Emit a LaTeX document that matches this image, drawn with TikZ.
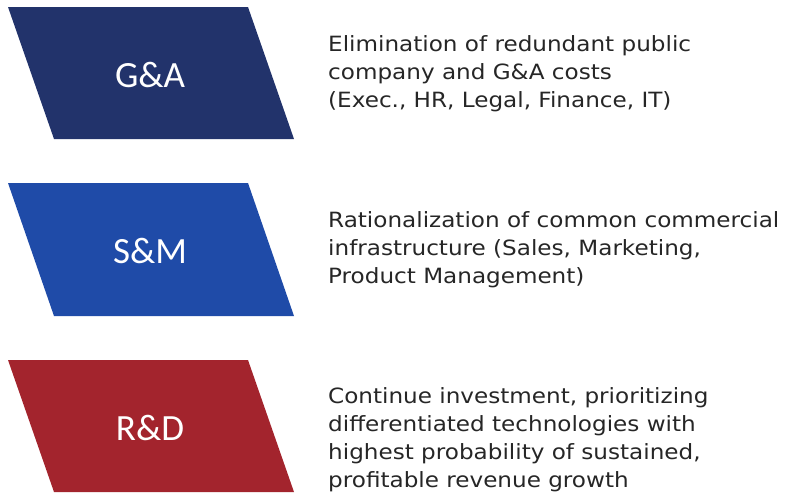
\documentclass[tikz,border=0pt]{standalone}
\usepackage{fontspec}
\setmainfont[FakeStretch=1.1]{DejaVu Sans}
\newfontfamily\tagfont{Carlito}
\usetikzlibrary{positioning}

\definecolor{gaBlue}{RGB}{34,51,107}
\definecolor{smBlue}{RGB}{31,75,168}
\definecolor{rdRed}{RGB}{163,36,45}

\begin{document}
\begin{tikzpicture}[x=1pt,y=-1pt,
    tag/.style={text=white,inner sep=0pt,font=\tagfont\fontsize{37}{37}\selectfont},
    blurb/.style={anchor=north west,inner sep=0pt,align=left,text=black!85,
                  font=\fontsize{21}{28}\selectfont}]
    \useasboundingbox (0,0) rectangle (786,496);

    % G&A block
    \fill[gaBlue] (8,7) -- (248,7) -- (294,139) -- (54,139) -- cycle;
    \node[tag] (ga) at (150,75) {G\&A};
    \node[blurb] (gaText) at (328,35) {Elimination of redundant public\\
          company and G\&A costs\\
          (Exec., HR, Legal, Finance, IT)};

    % S&M block
    \fill[smBlue] (8,183) -- (248,183) -- (294,316) -- (54,316) -- cycle;
    \node[tag] (sm) at (150,251) {S\&M};
    \node[blurb] (smText) at (328,211) {Rationalization of common commercial\\
          infrastructure (Sales, Marketing,\\
          Product Management)};

    % R&D block
    \fill[rdRed] (8,360) -- (248,360) -- (294,492) -- (54,492) -- cycle;
    \node[tag] (rd) at (150,428) {R\&D};
    \node[blurb] (rdText) at (328,387.5) {Continue investment, prioritizing\\
          differentiated technologies with\\
          highest probability of sustained,\\
          profitable revenue growth};
\end{tikzpicture}
\end{document}
